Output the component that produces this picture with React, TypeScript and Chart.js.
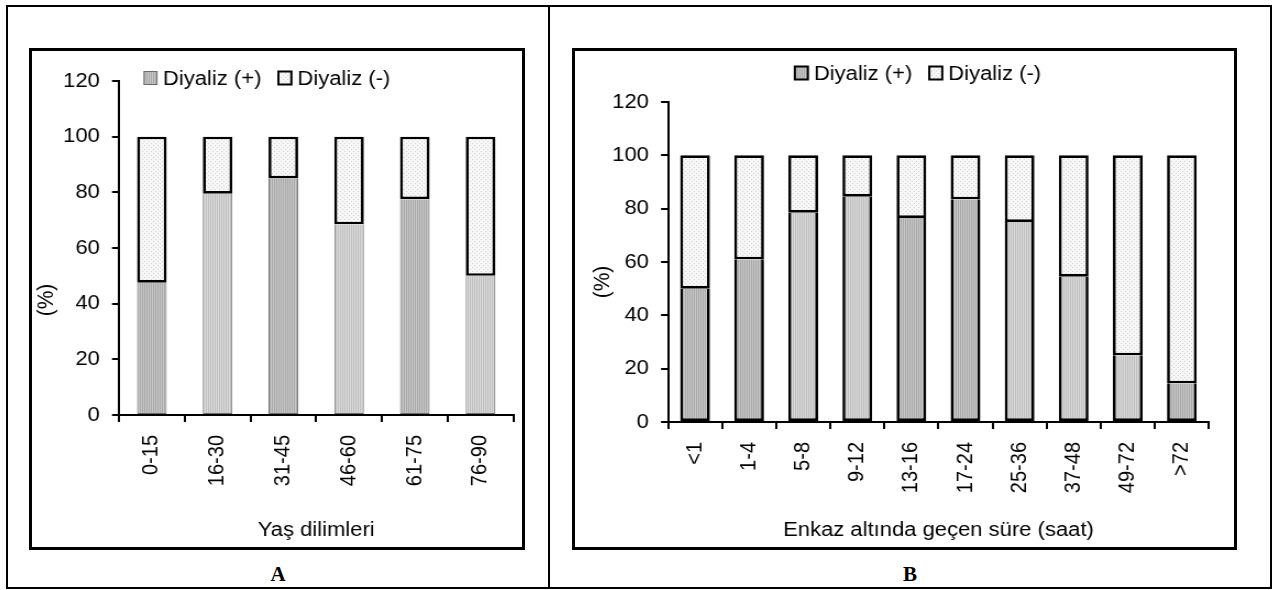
import React, { useEffect, useRef } from "react";
import { Chart, registerables } from "chart.js";

Chart.register(...registerables);

// ---------- data ----------
const seriesLabels = ["Diyaliz (+)", "Diyaliz (-)"];

const ageGroups = ["0-15", "16-30", "31-45", "46-60", "61-75", "76-90"];
const ageDialysisPos = [47.5, 79.5, 85, 68.5, 77.5, 50];
const ageDialysisNeg = [52.5, 20.5, 15, 31.5, 22.5, 50];

const durationGroups = ["<1", "1-4", "5-8", "9-12", "13-16", "17-24", "25-36", "37-48", "49-72", ">72"];
const durDialysisPos = [50, 61, 78.5, 84.5, 76.5, 83.5, 75, 54.5, 25, 14.5];
const durDialysisNeg = [50, 39, 21.5, 15.5, 23.5, 16.5, 25, 45.5, 75, 85.5];

const yTickValues = [0, 20, 40, 60, 80, 100, 120];

const ageAxisTitle = "Yaş dilimleri";
const durAxisTitle = "Enkaz altında geçen süre (saat)";
const yAxisTitle = "(%)";
const panelLetters = ["A", "B"];

// ---------- styles ----------
const FONT = '"Liberation Sans", Arial, sans-serif';
const SX = 1.1; // horizontal stretch of the original figure
const FS = 20;

const ageShades = ["dark", "light", "dark", "light", "dark", "light"];
const durShades = ["dark", "dark", "light", "light", "dark", "dark", "light", "light", "light", "dark"];

function makePattern(ctx: CanvasRenderingContext2D, kind: string): CanvasPattern {
  const c = document.createElement("canvas");
  c.width = 4;
  c.height = 4;
  const g = c.getContext("2d")!;
  if (kind === "minus") {
    g.fillStyle = "#f6f6f6";
    g.fillRect(0, 0, 4, 4);
    g.fillStyle = "#d6d6d6";
    g.fillRect(0, 0, 1, 1);
    g.fillRect(2, 2, 1, 1);
  } else if (kind === "dark") {
    g.fillStyle = "#c6c6c6";
    g.fillRect(0, 0, 4, 4);
    g.fillStyle = "#a9a9a9";
    g.fillRect(0, 0, 1, 4);
    g.fillRect(2, 0, 1, 4);
  } else {
    g.fillStyle = "#d8d8d8";
    g.fillRect(0, 0, 4, 4);
    g.fillStyle = "#c0c0c0";
    g.fillRect(0, 0, 1, 4);
    g.fillRect(2, 0, 1, 4);
  }
  return ctx.createPattern(c, "repeat")!;
}

const fixedLegend = {
  id: "fixedLegend",
  afterDraw(chart: any, _args: any, opts: any) {
    const ctx = chart.ctx as CanvasRenderingContext2D;
    ctx.save();
    ctx.font = `${opts.fontSize}px ${FONT}`;
    ctx.textBaseline = "middle";
    ctx.textAlign = "left";
    const bw = opts.box / SX;
    const bh = opts.box;
    const gap = opts.gap / SX;
    const itemGap = opts.itemGap / SX;
    const items = chart.data.datasets.map((ds: any, i: number) => ({
      label: ds.label,
      w: bw + gap + ctx.measureText(ds.label).width,
      fill: opts.fills[i],
      stroke: opts.strokes[i],
      lw: opts.lineWidths[i],
    }));
    const total = items.reduce((a: number, it: any) => a + it.w, 0) + itemGap * (items.length - 1);
    let x = opts.cx !== undefined ? opts.cx - total / 2 : opts.x;
    const y = opts.y;
    items.forEach((it: any) => {
      ctx.fillStyle = it.fill;
      ctx.fillRect(x, y - bh / 2, bw, bh);
      ctx.strokeStyle = it.stroke;
      ctx.lineWidth = it.lw;
      ctx.strokeRect(x, y - bh / 2, bw, bh);
      ctx.fillStyle = "#000";
      ctx.fillText(it.label, x + bw + gap, y + 1);
      x += it.w + itemGap;
    });

    // rotated y-axis title
    const t = opts.yTitle;
    ctx.save();
    ctx.translate(t.x, t.y);
    ctx.rotate(-Math.PI / 2);
    ctx.font = `${t.size}px ${FONT}`;
    ctx.textAlign = "center";
    ctx.textBaseline = "middle";
    ctx.fillStyle = "#000";
    ctx.fillText(t.text, 0, 0);
    ctx.restore();

    ctx.restore();
  },
};

type PanelCfg = {
  labels: string[];
  pos: number[];
  neg: number[];
  shades: string[];
  xTitle: string;
  width: number;
  height: number;
  yAxisW: number;
  padTop: number;
  padRight: number;
  xAxisH: number;
  yTitleCx: number;
  yTitleCy: number;
  xTitleCy: number;
  barPct: number;
  plusBorder: string;
  plusBorderW: number;
  legend: { x?: number; cx?: number; y: number };
};

function Panel({ cfg, left, top }: { cfg: PanelCfg; left: number; top: number }) {
  const ref = useRef<HTMLCanvasElement>(null);
  const iw = Math.round(cfg.width / SX);

  useEffect(() => {
    const canvas = ref.current!;
    const ctx = canvas.getContext("2d")!;
    const pDark = makePattern(ctx, "dark");
    const pLight = makePattern(ctx, "light");
    const pMinus = makePattern(ctx, "minus");
    const tickFont = { family: FONT, size: FS };
    const pw = cfg.plusBorderW;

    const chart = new Chart(canvas, {
      type: "bar",
      data: {
        labels: cfg.labels,
        datasets: [
          {
            label: seriesLabels[0],
            data: cfg.pos,
            backgroundColor: cfg.shades.map((s) => (s === "dark" ? pDark : pLight)),
            borderColor: cfg.plusBorder,
            borderWidth: { left: pw, right: pw, bottom: pw, top: 0 },
            borderSkipped: false,
            barPercentage: cfg.barPct,
            categoryPercentage: 1,
          },
          {
            label: seriesLabels[1],
            data: cfg.neg,
            backgroundColor: pMinus,
            borderColor: "#000",
            borderWidth: 2.7,
            borderSkipped: false,
            barPercentage: cfg.barPct,
            categoryPercentage: 1,
          },
        ],
      },
      options: {
        responsive: false,
        animation: false,
        devicePixelRatio: 1,
        layout: { padding: { left: 0, top: cfg.padTop, right: cfg.padRight / SX, bottom: 0 } },
        plugins: {
          legend: { display: false },
          tooltip: { enabled: false },
          fixedLegend: {
            x: cfg.legend.x !== undefined ? cfg.legend.x / SX : undefined,
            cx: cfg.legend.cx !== undefined ? cfg.legend.cx / SX : undefined,
            y: cfg.legend.y,
            box: 13,
            gap: 6,
            itemGap: 17,
            fontSize: FS,
            fills: [pDark, pMinus],
            strokes: [cfg.plusBorder, "#000"],
            lineWidths: [pw > 1.5 ? 2 : 1, 2],
            yTitle: { text: yAxisTitle, x: cfg.yTitleCx / SX, y: cfg.yTitleCy, size: 21 },
          },
        } as any,
        scales: {
          x: {
            stacked: true,
            grid: {
              display: true,
              drawOnChartArea: false,
              drawTicks: true,
              tickLength: 7,
              color: "#000",
              lineWidth: 2,
              offset: true,
            },
            border: { display: true, color: "#000", width: 2 },
            ticks: {
              color: "#000",
              font: tickFont,
              minRotation: 90,
              maxRotation: 90,
              padding: 13,
              autoSkip: false,
            },
            title: {
              display: true,
              text: cfg.xTitle,
              color: "#000",
              font: tickFont,
              padding: { top: 0, bottom: cfg.height - cfg.xTitleCy - FS * 0.6 },
            },
            afterFit: (s: any) => {
              s.height = cfg.xAxisH;
            },
          },
          y: {
            stacked: true,
            min: 0,
            max: 120,
            afterBuildTicks: (s: any) => {
              s.ticks = yTickValues.map((v) => ({ value: v }));
            },
            grid: {
              display: true,
              drawOnChartArea: false,
              drawTicks: true,
              tickLength: 7 / SX,
              color: "#000",
              lineWidth: 2,
            },
            border: { display: true, color: "#000", width: 2 },
            ticks: { color: "#000", font: tickFont, padding: 11 },
            title: { display: false },
            afterFit: (s: any) => {
              s.width = cfg.yAxisW / SX;
            },
          },
        },
      },
      plugins: [fixedLegend as any],
    });
    return () => chart.destroy();
  }, []);

  return (
    <div
      style={{
        position: "absolute",
        left,
        top,
        width: cfg.width,
        height: cfg.height,
        overflow: "hidden",
      }}
    >
      <canvas
        ref={ref}
        width={iw}
        height={cfg.height}
        style={{
          width: iw,
          height: cfg.height,
          display: "block",
          transform: `scaleX(${SX})`,
          transformOrigin: "0 0",
        }}
      />
    </div>
  );
}

const leftCfg: PanelCfg = {
  labels: ageGroups,
  pos: ageDialysisPos,
  neg: ageDialysisNeg,
  shades: ageShades,
  xTitle: ageAxisTitle,
  width: 490,
  height: 496,
  yAxisW: 87,
  padTop: 30,
  padRight: 3,
  xAxisH: 132,
  yTitleCx: 14,
  yTitleCy: 249,
  xTitleCy: 479,
  barPct: 0.45,
  plusBorder: "#6a6a6a",
  plusBorderW: 1,
  legend: { x: 112, y: 27 },
};

const rightCfg: PanelCfg = {
  labels: durationGroups,
  pos: durDialysisPos,
  neg: durDialysisNeg,
  shades: durShades,
  xTitle: durAxisTitle,
  width: 659,
  height: 496,
  yAxisW: 93,
  padTop: 51,
  padRight: 25,
  xAxisH: 125,
  yTitleCx: 28,
  yTitleCy: 231,
  xTitleCy: 479,
  barPct: 0.55,
  plusBorder: "#000",
  plusBorderW: 2.7,
  legend: { cx: 343, y: 22 },
};

export default function App() {
  const box = (l: number, t: number, w: number, h: number, bw: number) => ({
    position: "absolute" as const,
    left: l,
    top: t,
    width: w,
    height: h,
    boxSizing: "border-box" as const,
    border: `${bw}px solid #000`,
  });
  const letter = (cx: number) => ({
    position: "absolute" as const,
    left: cx - 30,
    width: 60,
    top: 562,
    textAlign: "center" as const,
    fontFamily: '"Liberation Serif", "Times New Roman", serif',
    fontWeight: "bold" as const,
    fontSize: 21,
    lineHeight: "24px",
    color: "#000",
  });
  return (
    <div style={{ position: "absolute", left: 0, top: 0, width: 1272, height: 590, background: "#fff" }}>
      <div style={box(6, 5, 1266, 584, 2)} />
      <div style={{ position: "absolute", left: 548, top: 5, width: 2, height: 584, background: "#000" }} />
      <div style={box(29, 48, 496, 502, 3)} />
      <div style={box(572, 48, 665, 502, 3)} />
      <Panel cfg={leftCfg} left={32} top={51} />
      <Panel cfg={rightCfg} left={575} top={51} />
      <div style={letter(278)}>{panelLetters[0]}</div>
      <div style={letter(910)}>{panelLetters[1]}</div>
    </div>
  );
}
